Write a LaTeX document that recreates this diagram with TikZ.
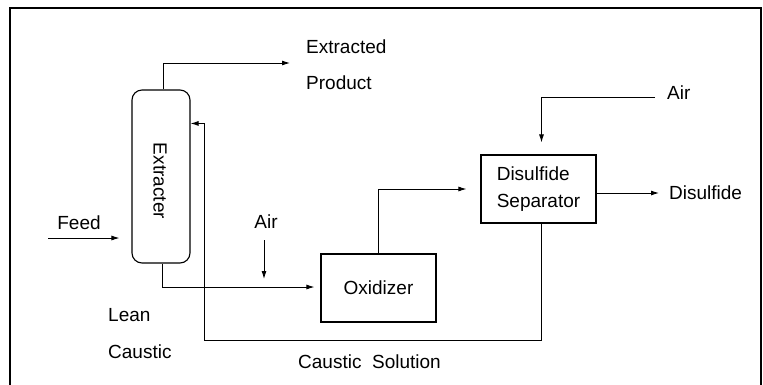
\documentclass[tikz,border=0pt]{standalone}
\usepackage{fontspec}
\setmainfont{Liberation Sans}
\usetikzlibrary{positioning,arrows.meta,calc}
\tikzset{
  vessel/.style={draw,line width=1.1pt,rounded corners=10pt,minimum width=58pt,minimum height=173pt,inner sep=0pt},
  unitbox/.style={draw,line width=1.1pt,minimum width=115pt,minimum height=68pt,inner sep=0pt,align=left},
  plain/.style={align=left,inner sep=0pt},
  flow/.style={-{Latex[length=8pt,width=5pt]},draw,line width=0.9pt},
  pipe/.style={draw,line width=0.9pt},
  frame/.style={draw,line width=1.5pt}}

\begin{document}
\begin{tikzpicture}[x=1pt,y=-1pt,font=\fontsize{19pt}{27pt}\selectfont]
  \useasboundingbox (0,0) rectangle (763,384);
  \draw[frame] (10,392) -- (10,8) -- (761,8) -- (761,392);
  % units
  \node[vessel] (ext) at (161,176.5) {};
  \node[plain,rotate=-90] (extlbl) at (160,181) {Extracter};
  \node[unitbox,align=center] (ox) at (378.5,288) {Oxidizer};
  \node[unitbox] (sep) at (538.5,189) {Disulfide\\Separator};
  % stream labels
  \node[plain,anchor=west] (prod1) at (306,47) {Extracted};
  \node[plain,anchor=west] (prod2) at (306,83) {Product};
  \node[plain] (feed) at (79,223) {Feed};
  \node[plain] (air1lbl) at (266,222) {Air};
  \node[plain,anchor=west] (air2lbl) at (667,93) {Air};
  \node[plain,anchor=west] (dis) at (669,193) {Disulfide};
  \node[plain,anchor=west] (lean1) at (108,315) {Lean};
  \node[plain,anchor=west] (lean2) at (108,352) {Caustic};
  \node[plain,anchor=west] (sol) at (298,362) {Caustic\ \ Solution};
  % free ends
  \coordinate (prodout) at (290,63);
  \coordinate (feedin) at (48,238);
  \coordinate (air1) at (264,240);
  \coordinate (mix) at (264,287);
  \coordinate (air2) at (655,97);
  \coordinate (ret) at (204,340);
  % streams
  \draw[flow] ([xshift=2pt]ext.north) |- (prodout);
  \draw[flow,shorten >=12pt] (feedin) -- (feedin -| ext.west);
  \draw[flow,shorten >=6pt] ([xshift=1pt]ext.south) |- ([yshift=1pt]ox.west);
  \draw[flow,shorten >=8pt] (air1) -- (mix);
  \draw[flow,shorten >=14pt] (ox.north) |- (sep.west);
  \draw[flow,shorten >=12pt] (air2) -| ([xshift=3pt]sep.north);
  \draw[flow,shorten >=10pt] ([yshift=-4pt]sep.east) -- ([yshift=-4pt]sep.east -| dis.west);
  \draw[flow] ([xshift=3pt]sep.south) |- (ret) |- ([yshift=-34pt]ext.north east);
\end{tikzpicture}
\end{document}
